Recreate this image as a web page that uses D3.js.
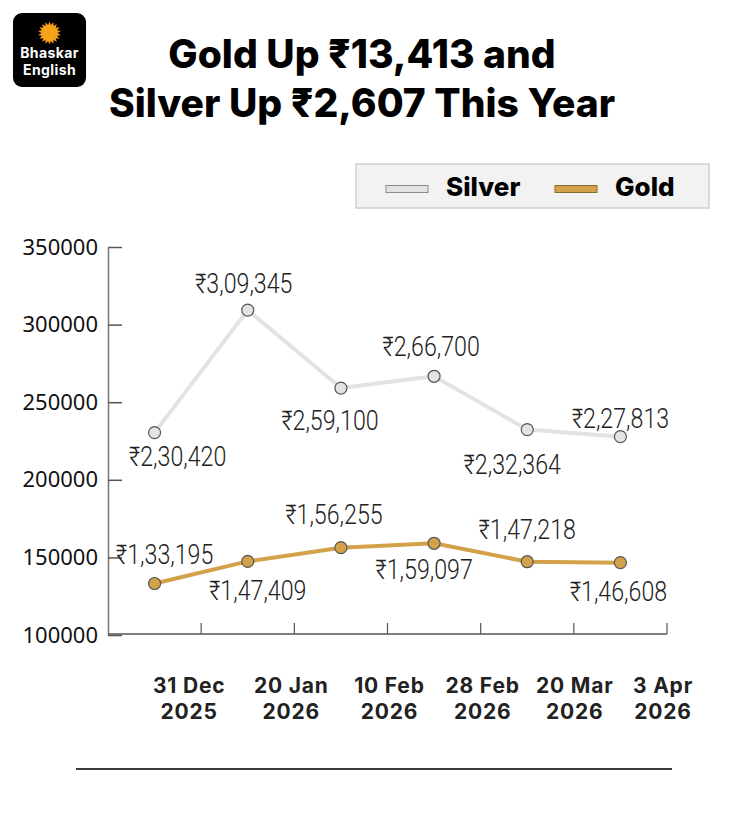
<!DOCTYPE html>
<html>
<head>
<meta charset="utf-8">
<script src="https://cdn.jsdelivr.net/npm/d3@7"></script>
<style>
  body { margin: 0; background: #fff; }
  svg { display: block; }
</style>
</head>
<body>
<svg id="chart" width="730" height="830"></svg>
<script>
// ---- data
var dates = [["31 Dec", "2025"], ["20 Jan", "2026"], ["10 Feb", "2026"], ["28 Feb", "2026"], ["20 Mar", "2026"], ["3 Apr", "2026"]];
var silver = [230420, 309345, 259100, 266700, 232364, 227813];
var gold = [133195, 147409, 156255, 159097, 147218, 146608];
var yTicks = [100000, 150000, 200000, 250000, 300000, 350000];
var titleLines = ["Gold Up \u20B913,413 and", "Silver Up \u20B92,607 This Year"];
var seriesNames = ["Silver", "Gold"];

// label offsets from each point [dx, dy]
var silverLabelPos = [[23, 33], [-4, -17], [-11, 42], [-3, -20], [-15, 44], [0, -9]];
var goldLabelPos = [[10, -19], [10, 39], [-7, -24], [-10, 36], [0, -23], [-2, 38]];
// small nudges for the date labels
var dateShift = [-12, -3, 2, 2, 1, -4];

var silverColor = "#e3e3e3", goldColor = "#d4a14b";
var boldFont = "Inter, 'Noto Sans', sans-serif";

var svg = d3.select("#chart");

// indian style grouping: 2,30,420
function inr(v) {
  var s = String(v), last3 = s.slice(-3), rest = s.slice(0, -3);
  rest = rest.replace(/\B(?=(\d{2})+(?!\d))/g, ",");
  return "\u20B9" + (rest ? rest + "," : "") + last3;
}

//****LOGO
var logo = svg.append("g").attr("transform", "translate(13,13)");
logo.append("rect").attr("width", 73).attr("height", 74).attr("rx", 9).attr("fill", "#000");
var rays = d3.range(36).map(function(i) { return [i * Math.PI / 18, i % 2 ? 8 : 11.5]; });
logo.append("path")
  .attr("transform", "translate(36.5,20)")
  .attr("d", d3.lineRadial().curve(d3.curveLinearClosed)(rays))
  .attr("fill", "#f7a21b");
logo.append("circle").attr("cx", 36.5).attr("cy", 20).attr("r", 7.5).attr("fill", "#f7a21b");
logo.selectAll("text.logo")
  .data(["Bhaskar", "English"])
  .enter().append("text")
  .attr("class", "logo")
  .attr("x", 36.5)
  .attr("y", function(d, i) { return 44.5 + i * 17.5; })
  .attr("text-anchor", "middle")
  .attr("fill", "#fff")
  .style("font", "700 14px " + boldFont)
  .style("letter-spacing", "0.4px")
  .text(function(d) { return d; });

//****TITLE
svg.selectAll("text.title")
  .data(titleLines)
  .enter().append("text")
  .attr("class", "title")
  .attr("x", 362)
  .attr("y", function(d, i) { return 68 + i * 49; })
  .attr("text-anchor", "middle")
  .attr("fill", "#000")
  .style("font", "800 39px " + boldFont)
  .text(function(d) { return d; });

//****LEGEND
var legend = svg.append("g").attr("transform", "translate(356,164)");
legend.append("rect").attr("width", 353).attr("height", 44)
  .attr("fill", "#f2f2f2").attr("stroke", "#cfcfcf").attr("stroke-width", 1.5);
var legItems = legend.selectAll("g.leg")
  .data(seriesNames)
  .enter().append("g")
  .attr("class", "leg")
  .attr("transform", function(d, i) { return "translate(" + (30 + i * 169) + ",0)"; });
legItems.append("rect")
  .attr("y", 21.5).attr("width", 42).attr("height", 7)
  .attr("fill", function(d, i) { return i ? goldColor : silverColor; })
  .attr("stroke", function(d, i) { return i ? "#8a6a30" : "#8c8c8c"; })
  .attr("stroke-width", 1);
legItems.append("text")
  .attr("x", 60).attr("y", 32)
  .attr("fill", "#000")
  .style("font", "800 26px " + boldFont)
  .text(function(d) { return d; });

//****SCALES
var x = d3.scaleBand().domain(d3.range(dates.length)).range([108, 667]);
var y = d3.scaleLinear().domain([100000, 350000]).range([635, 247]);
var cx = function(i) { return x(i) + x.bandwidth() / 2; };
var edge = function(i) { return x(i) + x.bandwidth(); };

//****AXES
var yAxis = d3.axisLeft(y)
  .tickValues(yTicks)
  .tickSize(-14)
  .tickSizeOuter(0)
  .tickPadding(10)
  .tickFormat(d3.format("d"));

var gy = svg.append("g").attr("transform", "translate(108,0)").call(yAxis);
gy.select(".domain").attr("stroke", "#777").attr("stroke-width", 1.5);
gy.selectAll(".tick line").attr("stroke", "#555").attr("stroke-width", 1.5);
gy.selectAll(".tick text")
  .attr("fill", "#111")
  .style("font", "22px 'Noto Sans', sans-serif");

// x axis: line with ticks on band edges
var gx = svg.append("g").attr("transform", "translate(0,634)");
gx.append("line").attr("x1", 108).attr("x2", 667)
  .attr("stroke", "#555").attr("stroke-width", 1.5);
gx.selectAll("line.xt")
  .data(dates)
  .enter().append("line")
  .attr("class", "xt")
  .attr("x1", function(d, i) { return edge(i); })
  .attr("x2", function(d, i) { return edge(i); })
  .attr("y1", 0).attr("y2", -11)
  .attr("stroke", "#555").attr("stroke-width", 1.2);

// two separate text rows for the dates
[0, 1].forEach(function(row) {
  gx.selectAll("text.xl" + row)
    .data(dates)
    .enter().append("text")
    .attr("class", "xl" + row)
    .attr("x", function(d, i) { return edge(i) + dateShift[i]; })
    .attr("y", 59 + row * 26)
    .attr("text-anchor", "middle")
    .attr("fill", "#222")
    .style("font", "700 21px " + boldFont)
    .style("letter-spacing", "0.8px")
    .text(function(d) { return d[row]; });
});

//****LINES
var line = d3.line()
  .x(function(d, i) { return cx(i); })
  .y(function(d) { return y(d); });

function drawSeries(vals, color, labelPos) {
  svg.append("path")
    .datum(vals)
    .attr("d", line)
    .attr("fill", "none")
    .attr("stroke", color)
    .attr("stroke-width", 4)
    .attr("stroke-linejoin", "round");

  svg.append("g").selectAll("circle")
    .data(vals)
    .enter().append("circle")
    .attr("cx", function(d, i) { return cx(i); })
    .attr("cy", function(d) { return y(d); })
    .attr("r", 6)
    .attr("fill", color)
    .attr("stroke", "#555")
    .attr("stroke-width", 1.2);

  svg.append("g").selectAll("text")
    .data(vals)
    .enter().append("text")
    .attr("transform", function(d, i) {
      return "translate(" + (cx(i) + labelPos[i][0]) + "," + (y(d) + labelPos[i][1]) + ") scale(0.86,1)";
    })
    .attr("text-anchor", "middle")
    .attr("fill", "#222")
    .style("font", "300 27px Roboto, sans-serif")
    .text(function(d) { return inr(d); });
}

drawSeries(silver, silverColor, silverLabelPos);
drawSeries(gold, goldColor, goldLabelPos);

// bottom rule
svg.append("line")
  .attr("x1", 76).attr("x2", 672)
  .attr("y1", 769).attr("y2", 769)
  .attr("stroke", "#3a3a3a").attr("stroke-width", 2);
</script>
</body>
</html>
